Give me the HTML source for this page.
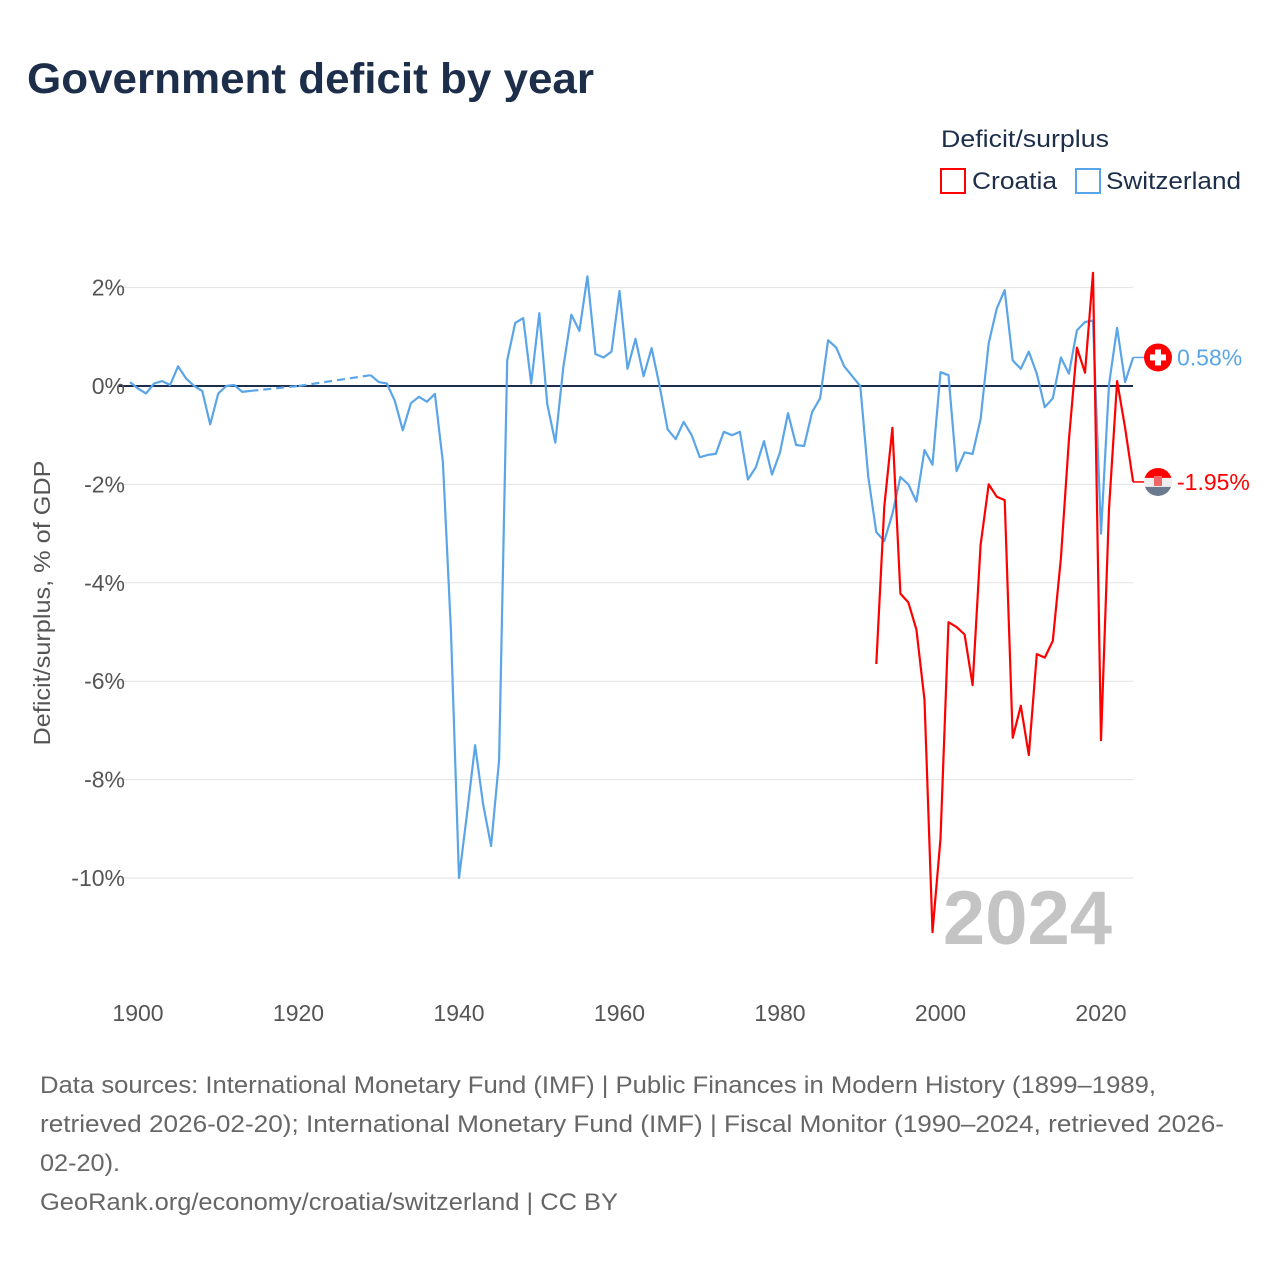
<!DOCTYPE html>
<html><head><meta charset="utf-8"><style>
body{margin:0;background:#fff;}
svg{display:block;font-family:"Liberation Sans",sans-serif;}
</style></head><body>
<svg id="chart" width="1280" height="1280" viewBox="0 0 1280 1280">
<text x="27" y="93" font-size="43" font-weight="bold" fill="#1c2e4a" textLength="567" lengthAdjust="spacingAndGlyphs">Government deficit by year</text>
<g>
<text x="941" y="147" font-size="24" fill="#1c2e4a" textLength="168" lengthAdjust="spacingAndGlyphs">Deficit/surplus</text>
<g><rect x="941" y="169" width="24" height="24" fill="none" stroke="#f00" stroke-width="2"/><text x="972" y="189" font-size="24" fill="#1c2e4a" textLength="85" lengthAdjust="spacingAndGlyphs">Croatia</text></g>
<g><rect x="1076" y="169" width="24" height="24" fill="none" stroke="#5aa5e8" stroke-width="2"/><text x="1106" y="189" font-size="24" fill="#1c2e4a" textLength="135" lengthAdjust="spacingAndGlyphs">Switzerland</text></g>
</g>
<g id="grid"></g>
<g id="yticks"></g>
<g id="xticks"></g>
<text transform="translate(50,603) rotate(-90)" text-anchor="middle" font-size="23" fill="#555" textLength="285" lengthAdjust="spacingAndGlyphs">Deficit/surplus, % of GDP</text>
<text x="1112" y="944" text-anchor="end" font-size="76" font-weight="bold" fill="#c4c4c4">2024</text>
<g id="series"></g>
<g id="labels"></g>
<g font-size="24" fill="#666">
<text x="40" y="1093" textLength="1116" lengthAdjust="spacingAndGlyphs">Data sources: International Monetary Fund (IMF) | Public Finances in Modern History (1899–1989,</text>
<text x="40" y="1132" textLength="1184" lengthAdjust="spacingAndGlyphs">retrieved 2026-02-20); International Monetary Fund (IMF) | Fiscal Monitor (1990–2024, retrieved 2026-</text>
<text x="40" y="1171" textLength="80" lengthAdjust="spacingAndGlyphs">02-20).</text>
<text x="40" y="1210" textLength="578" lengthAdjust="spacingAndGlyphs">GeoRank.org/economy/croatia/switzerland | CC BY</text>
</g>
</svg>
<script>
const yTicks=[2,0,-2,-4,-6,-8,-10];
const xTicks=[1900,1920,1940,1960,1980,2000,2020];
const swissYears=[1899,1900,1901,1902,1903,1904,1905,1906,1907,1908,1909,1910,1911,1912,1913,1914,1920,1929,1930,1931,1932,1933,1934,1935,1936,1937,1938,1939,1940,1941,1942,1943,1944,1945,1946,1947,1948,1949,1950,1951,1952,1953,1954,1955,1956,1957,1958,1959,1960,1961,1962,1963,1964,1965,1966,1967,1968,1969,1970,1971,1972,1973,1974,1975,1976,1977,1978,1979,1980,1981,1982,1983,1984,1985,1986,1987,1988,1989,1990,1991,1992,1993,1994,1995,1996,1997,1998,1999,2000,2001,2002,2003,2004,2005,2006,2007,2008,2009,2010,2011,2012,2013,2014,2015,2016,2017,2018,2019,2020,2021,2022,2023,2024];
const swissValues=[0.08,-0.05,-0.15,0.05,0.1,0.02,0.4,0.15,0,-0.1,-0.78,-0.15,0,0.02,-0.12,-0.1,0.0,0.22,0.08,0.05,-0.3,-0.9,-0.35,-0.22,-0.32,-0.16,-1.55,-5.0,-10.0,-8.7,-7.3,-8.5,-9.35,-7.6,0.52,1.28,1.38,0.05,1.48,-0.37,-1.15,0.38,1.45,1.12,2.23,0.65,0.58,0.7,1.93,0.35,0.96,0.2,0.77,0,-0.88,-1.08,-0.73,-1.0,-1.45,-1.4,-1.38,-0.93,-1.0,-0.93,-1.9,-1.65,-1.12,-1.8,-1.35,-0.55,-1.2,-1.22,-0.53,-0.25,0.93,0.78,0.4,0.2,0,-1.85,-2.97,-3.15,-2.6,-1.85,-2.0,-2.35,-1.3,-1.6,0.28,0.22,-1.73,-1.35,-1.38,-0.67,0.87,1.57,1.95,0.52,0.35,0.7,0.25,-0.43,-0.25,0.58,0.25,1.13,1.3,1.33,-3.0,0.03,1.18,0.08,0.58];
const croatiaYears=[1992,1993,1994,1995,1996,1997,1998,1999,2000,2001,2002,2003,2004,2005,2006,2007,2008,2009,2010,2011,2012,2013,2014,2015,2016,2017,2018,2019,2020,2021,2022,2023,2024];
const croatiaValues=[-5.65,-2.45,-0.85,-4.22,-4.4,-4.95,-6.38,-11.1,-9.2,-4.8,-4.9,-5.05,-6.08,-3.23,-2.0,-2.25,-2.32,-7.15,-6.5,-7.5,-5.45,-5.52,-5.18,-3.5,-1.1,0.78,0.27,2.3,-7.2,-2.5,0.1,-0.85,-1.95];

const NS="http://www.w3.org/2000/svg";
const X=y=>138+(y-1900)*8.025;
const Y=v=>386-v*49.2;
function mk(tag,attrs,parent){const e=document.createElementNS(NS,tag);for(const k in attrs)e.setAttribute(k,attrs[k]);parent.appendChild(e);return e;}
const grid=document.getElementById('grid'),yt=document.getElementById('yticks'),xt=document.getElementById('xticks');
yTicks.forEach(t=>{
  const l=mk('line',{x1:118,x2:1133,y1:Y(t),y2:Y(t),stroke:'#e2e2e2','stroke-width':1},grid);
  
  
  const tx=mk('text',{x:125,y:Y(t)+8,'text-anchor':'end','font-size':23,fill:'#555'},yt);
  tx.textContent=t+'%';
  
  
});
const zl=mk('line',{x1:118,x2:1133,y1:Y(0),y2:Y(0),stroke:'#1c2e4a','stroke-width':2},grid);


xTicks.forEach(t=>{
  const tx=mk('text',{x:X(t),y:1021,'text-anchor':'middle','font-size':23,fill:'#555'},xt);
  tx.textContent=t;
  
  
});
const ser=document.getElementById('series');
function drawSeries(years,vals,color,name){
  let seg=[];const segs=[];
  for(let i=0;i<years.length;i++){
    if(i>0&&years[i]-years[i-1]>1){segs.push(seg);
      const d=mk('line',{x1:X(years[i-1]),y1:Y(vals[i-1]),x2:X(years[i]),y2:Y(vals[i]),stroke:color,'stroke-width':2.2,'stroke-dasharray':'8,5'},ser);
      
      
      seg=[];}
    seg.push(X(years[i]).toFixed(1)+','+Y(vals[i]).toFixed(1));
  }
  segs.push(seg);
  segs.forEach(s=>{if(s.length>1){
    const p=mk('polyline',{points:s.join(' '),fill:'none',stroke:color,'stroke-width':2.2,'stroke-linejoin':'round'},ser);
    
    
  }});
}
drawSeries(swissYears,swissValues,'#5aa5e8','switzerland');
drawSeries(croatiaYears,croatiaValues,'#f00','croatia');
const lab=document.getElementById('labels');
function endLabel(v,color,name,flag){
  const y=Y(v);
  const c=mk('line',{x1:1133,y1:y,x2:1145,y2:y,stroke:color,'stroke-width':1.5},lab);
  
  
  const g=mk('g',{},lab);
  
  
  flag(g,1158,y);
  const t=mk('text',{x:1177,y:y+8,'font-size':23,fill:color},lab);
  t.textContent=v.toFixed(2)+'%';
  
  
}
endLabel(swissValues[swissValues.length-1],'#5aa5e8','switzerland',(g,cx,cy)=>{
  mk('circle',{cx:cx,cy:cy,r:14,fill:'#f00'},g);
  mk('rect',{x:cx-3,y:cy-8,width:6,height:16,fill:'#fff'},g);
  mk('rect',{x:cx-8,y:cy-3,width:16,height:6,fill:'#fff'},g);
});
endLabel(croatiaValues[croatiaValues.length-1],'#f00','croatia',(g,cx,cy)=>{
  const cp=mk('clipPath',{id:'hrclip'},g);mk('circle',{cx:cx,cy:cy,r:14},cp);
  const gg=mk('g',{'clip-path':'url(#hrclip)'},g);
  mk('rect',{x:cx-14,y:cy-14,width:28,height:10,fill:'#f00'},gg);
  mk('rect',{x:cx-14,y:cy-4,width:28,height:9,fill:'#eee'},gg);
  mk('rect',{x:cx-14,y:cy+5,width:28,height:10,fill:'#6b7a8f'},gg);
  mk('rect',{x:cx-4,y:cy-6,width:8,height:10,fill:'#e66'},gg);
});
</script>
</body></html>
